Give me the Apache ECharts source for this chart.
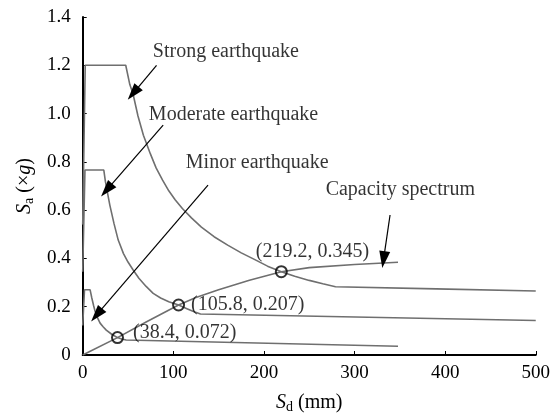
<!DOCTYPE html>
<html><head><meta charset="utf-8">
<script src="https://cdn.jsdelivr.net/npm/echarts@6/dist/echarts.min.js"></script>
<style>html,body{margin:0;padding:0;background:#fff}#c{width:553px;height:419px}</style>
</head><body><div id="c"></div>
<script>
// Demand spectra (Sd in mm, Sa in g)
const strongQuake = [[0,0.54],[2.8,1.2],[47.5,1.2],[52,1.12],[55.5,1.082],[61,0.99],[67,0.91],[74.5,0.835],[81,0.775],[88,0.725],[95,0.68],[102,0.643],[110,0.607],[120,0.568],[131,0.53],[145,0.49],[160,0.455],[175,0.423],[190,0.395],[204,0.368],[219.2,0.345],[234,0.326],[250,0.309],[265,0.295],[279,0.283],[390,0.274],[500,0.265]];
const moderateQuake = [[0,0.345],[2.5,0.766],[23.3,0.766],[25,0.72],[26.8,0.683],[30,0.62],[34.5,0.545],[39.2,0.476],[45,0.42],[50,0.385],[55.7,0.352],[62,0.318],[70,0.284],[77.8,0.255],[86,0.236],[95,0.221],[105.8,0.207],[115,0.192],[123,0.179],[130,0.170],[500,0.143]];
const minorQuake = [[0,0.122],[2,0.27],[8.2,0.27],[10,0.237],[12,0.205],[13.6,0.182],[16,0.157],[19.2,0.132],[22.5,0.117],[26,0.103],[32,0.086],[38.4,0.072],[43,0.066],[48,0.062],[348,0.036]];
const capacitySpectrum = [[0,0],[38.4,0.072],[70,0.137],[105.8,0.207],[125,0.238],[150,0.27],[184,0.31],[219.2,0.345],[250,0.362],[300,0.375],[348,0.384]];
// Performance points
const perfPoints = [[38.4,0.072],[105.8,0.207],[219.2,0.345]];
const perfLabels = ['(38.4, 0.072)','(105.8, 0.207)','(219.2, 0.345)'];
// Callout texts and arrows (data coords)
const calloutTexts = ['Strong earthquake','Moderate earthquake','Minor earthquake','Capacity spectrum'];
const calloutAnchors = [[76.3,1.255],[71.9,0.994],[112.7,0.795],[267,0.683]];
const arrowStarts = [[81.5,1.2],[88.8,0.952],[138.3,0.704],[339.2,0.58]];
const arrowEnds = [[55.7,1.084],[26.4,0.683],[15.4,0.166],[332,0.395]];
// Axis ticks
const xTicks = [0,100,200,300,400,500];
const yTicks = [0,0.2,0.4,0.6,0.8,1.0,1.2,1.4];

const FONT = "'Liberation Serif','Times New Roman',serif";
const curveStyle = {color:'#6f6f6f', width:1.6};
const chart = echarts.init(document.getElementById('c'), null, {renderer:'canvas'});

function curve(name, data){
  return {name, type:'line', data, showSymbol:false, symbol:'none', smooth:false,
    lineStyle:curveStyle, itemStyle:{color:'#6f6f6f'}, z:2, silent:true};
}
const labelOffsets = [[9,-4.6],[6,0],[-32,-19.7]];

chart.setOption({
  animation:false,
  backgroundColor:'#fff',
  grid:{left:82.7, right:16.3, top:17, bottom:64, containLabel:false},
  xAxis:{type:'value', min:xTicks[0], max:xTicks[xTicks.length-1], interval:100,
    name:'{s|S}{d|d}{n| (mm)}', nameLocation:'middle', nameGap:37,
    nameTextStyle:{fontFamily:FONT, fontSize:20, color:'#000',
      rich:{s:{fontFamily:FONT,fontStyle:'italic',fontSize:20,lineHeight:22,color:'#000'},
            d:{fontFamily:FONT,fontSize:14,lineHeight:14,verticalAlign:'bottom',color:'#000'},
            n:{fontFamily:FONT,fontSize:20,lineHeight:22,color:'#000'}}},
    axisLine:{show:true, onZero:false, lineStyle:{color:'#000', width:2}},
    axisTick:{show:true, inside:true, length:4, lineStyle:{color:'#000', width:1}},
    axisLabel:{fontFamily:FONT, fontSize:19, color:'#000', margin:9},
    splitLine:{show:false}},
  yAxis:{type:'value', min:yTicks[0], max:yTicks[yTicks.length-1], interval:0.2,
    name:'{s|S}{d|a}{n| (×}{g|g}{n|)}', nameLocation:'middle', nameRotate:90, nameGap:46,
    nameTextStyle:{fontFamily:FONT, fontSize:20, color:'#000',
      rich:{s:{fontFamily:FONT,fontStyle:'italic',fontSize:20,lineHeight:22,color:'#000'},
            d:{fontFamily:FONT,fontSize:14,lineHeight:14,verticalAlign:'bottom',color:'#000'},
            n:{fontFamily:FONT,fontSize:20,lineHeight:22,color:'#000'},
            g:{fontFamily:FONT,fontStyle:'italic',fontSize:20,lineHeight:22,color:'#000'}}},
    axisLine:{show:true, onZero:false, lineStyle:{color:'#000', width:2}},
    axisTick:{show:true, inside:true, length:4, lineStyle:{color:'#000', width:1}},
    axisLabel:{fontFamily:FONT, fontSize:19, color:'#000', margin:12,
      formatter:v=> v===0 ? '0' : v.toFixed(1)},
    splitLine:{show:false}},
  series:[
    curve('Strong earthquake', strongQuake),
    curve('Moderate earthquake', moderateQuake),
    curve('Minor earthquake', minorQuake),
    Object.assign(curve('Capacity spectrum', capacitySpectrum), {
      markLine:{silent:true, symbol:['none','triangle'], symbolSize:[11,17], precision:4,
        label:{show:false},
        lineStyle:{color:'#000', width:1.2, type:'solid'},
        emphasis:{disabled:true},
        data: arrowStarts.map((s,i)=>[{coord:s},{coord:arrowEnds[i]}])}
    }),
    {name:'Performance points', type:'scatter', z:5, silent:true,
      data: perfPoints.map((p,i)=>({value:p, label:{offset:labelOffsets[i]}})),
      symbol:'circle', symbolSize:11,
      itemStyle:{color:'rgba(255,255,255,0)', borderColor:'#000', borderWidth:2},
      label:{show:true, position:'right', distance:0, fontFamily:FONT, fontSize:20, color:'#000',
        formatter:p=>perfLabels[p.dataIndex]}},
    {name:'Callouts', type:'scatter', z:6, silent:true,
      data: calloutAnchors, symbolSize:2, symbol:'circle',
      itemStyle:{color:'rgba(0,0,0,0)'},
      label:{show:true, position:'right', distance:0, fontFamily:FONT, fontSize:20, color:'#000',
        formatter:p=>calloutTexts[p.dataIndex]}}
  ]
});
</script></body></html>
